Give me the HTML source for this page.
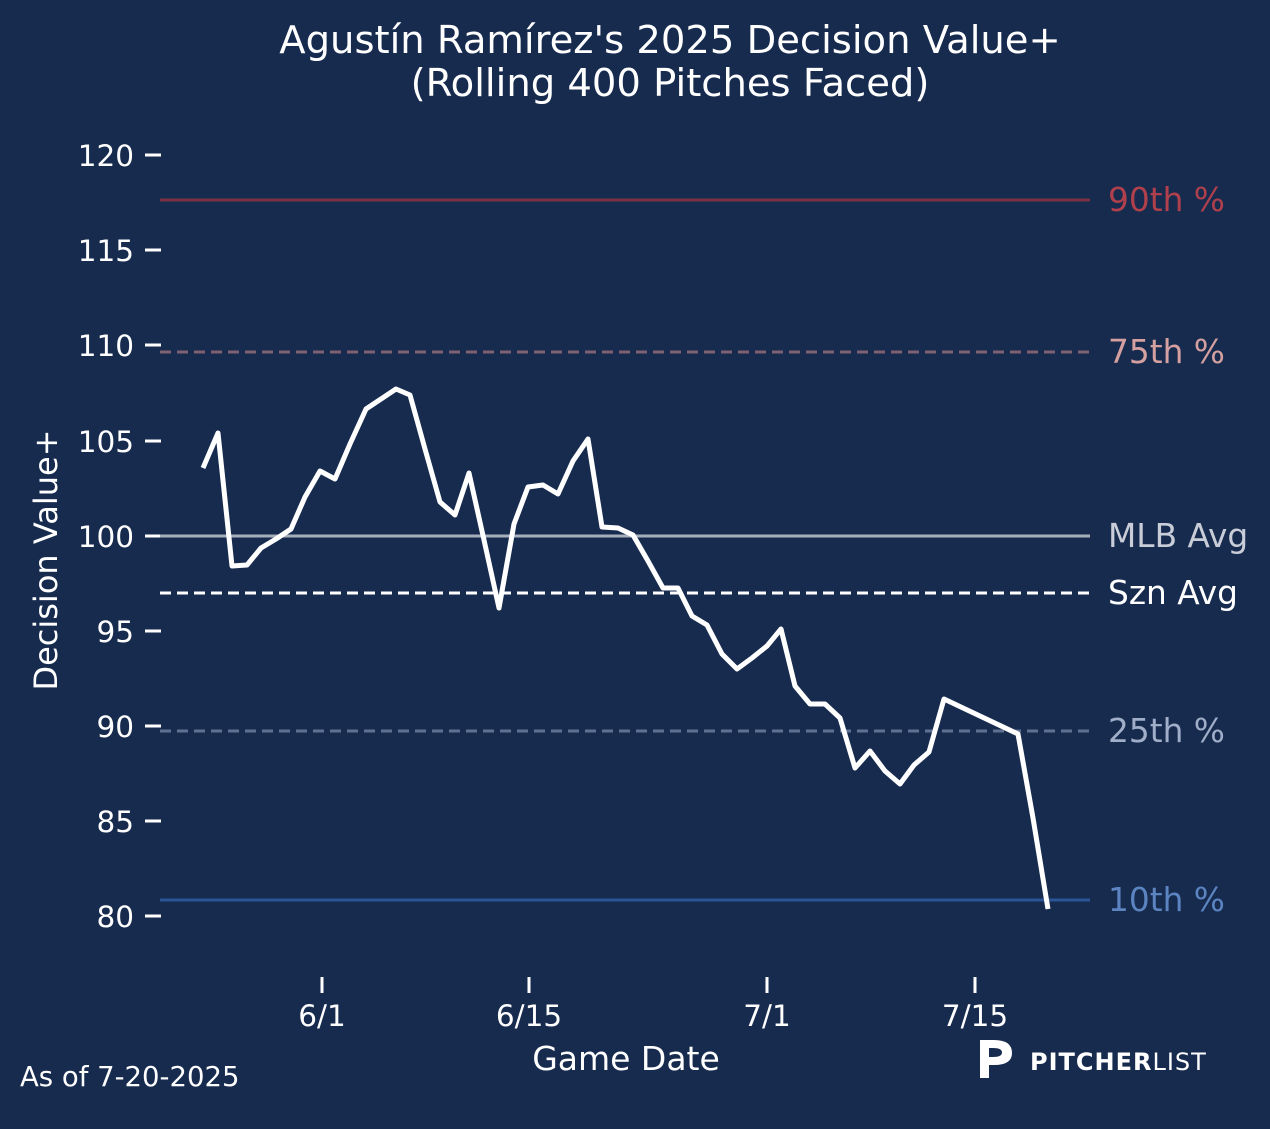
<!DOCTYPE html>
<html><head><meta charset="utf-8"><style>
html,body{margin:0;padding:0;background:#172b4f;}
svg{display:block;font-family:"DejaVu Sans","Liberation Sans",sans-serif;}
</style></head><body>
<svg width="1270" height="1129" viewBox="0 0 1270 1129" xmlns="http://www.w3.org/2000/svg">
<rect width="1270" height="1129" fill="#172b4f"/>
<text x="670" y="53" fill="#fff" font-size="38.5" text-anchor="middle">Agustín Ramírez's 2025 Decision Value+</text>
<text x="670" y="96" fill="#fff" font-size="38.5" text-anchor="middle">(Rolling 400 Pitches Faced)</text>
<g stroke="#fff" stroke-width="3">
<line x1="145" y1="155" x2="161" y2="155"/><line x1="145" y1="250" x2="161" y2="250"/>
<line x1="145" y1="345" x2="161" y2="345"/><line x1="145" y1="441" x2="161" y2="441"/>
<line x1="145" y1="536" x2="161" y2="536"/><line x1="145" y1="631" x2="161" y2="631"/>
<line x1="145" y1="726" x2="161" y2="726"/><line x1="145" y1="821" x2="161" y2="821"/>
<line x1="145" y1="916" x2="161" y2="916"/>
<line x1="322" y1="977" x2="322" y2="993"/><line x1="529" y1="977" x2="529" y2="993"/>
<line x1="767" y1="977" x2="767" y2="993"/><line x1="975" y1="977" x2="975" y2="993"/>
</g>
<g fill="#fff" font-size="29.5" text-anchor="end">
<text x="134" y="166">120</text><text x="134" y="261">115</text><text x="134" y="356">110</text>
<text x="134" y="452">105</text><text x="134" y="547">100</text><text x="134" y="642">95</text>
<text x="134" y="737">90</text><text x="134" y="832">85</text><text x="134" y="927">80</text>
</g>
<g fill="#fff" font-size="29.5" text-anchor="middle">
<text x="322" y="1026">6/1</text><text x="529" y="1026">6/15</text>
<text x="767" y="1026">7/1</text><text x="975" y="1026">7/15</text>
<text x="626" y="1070" font-size="33">Game Date</text>
<text transform="translate(57,560) rotate(-90)" font-size="32">Decision Value+</text>
</g>
<line x1="160" y1="200" x2="1090" y2="200" stroke="#7a3140" stroke-width="3"/>
<line x1="160" y1="352" x2="1090" y2="352" stroke="#7f6272" stroke-width="3" stroke-dasharray="11,6"/>
<line x1="160" y1="536" x2="1090" y2="536" stroke="#a6adbb" stroke-width="3"/>
<line x1="160" y1="593" x2="1090" y2="593" stroke="#fff" stroke-width="3" stroke-dasharray="11,6"/>
<line x1="160" y1="731" x2="1090" y2="731" stroke="#5f7090" stroke-width="3" stroke-dasharray="11,6"/>
<line x1="160" y1="900" x2="1090" y2="900" stroke="#2a5596" stroke-width="3"/>
<polyline fill="none" stroke="#fff" stroke-width="5" stroke-linejoin="round" points="203,468 218,433 232,566 247,565 261,548 276,539 291,529 305,497 320,471 335,479 350,444 366,409 381,399 396,389 410,395 425,449 440,502 455,515 469,473 484,540 499,608 514,524 528,487 543,485 558,494 573,461 588,439 602,527 618,528 633,535 648,561 663,588 678,588 692,616 707,625 722,654 737,669 752,658 767,646 781,629 795,686 810,704 825,704 840,718 855,768 870,751 885,771 900,784 914,765 929,752 944,699 1018,734 1033,818 1048,909"/>
<g font-size="32.8">
<text x="1108" y="211" fill="#b0404c">90th %</text>
<text x="1108" y="363" fill="#d4a0a0">75th %</text>
<text x="1108" y="547" fill="#c8cdd8">MLB Avg</text>
<text x="1108" y="604" fill="#fff">Szn Avg</text>
<text x="1108" y="742" fill="#a0aec8">25th %</text>
<text x="1108" y="911" fill="#5b84c0">10th %</text>
</g>
<text x="20" y="1086" fill="#fff" font-size="27.5">As of 7-20-2025</text>
<path d="M980 1040 h14 q18 0 18 13 q0 12 -18 12 h-5 v13 h-9 z M989 1048 v9 h4 q9 0 9 -4.5 q0 -4.5 -9 -4.5 z" fill="#fff"/>
<text x="1030" y="1070" fill="#fff" font-size="24" font-weight="bold" letter-spacing="1">PITCHER<tspan font-weight="normal">LIST</tspan></text>
</svg>
</body></html>
